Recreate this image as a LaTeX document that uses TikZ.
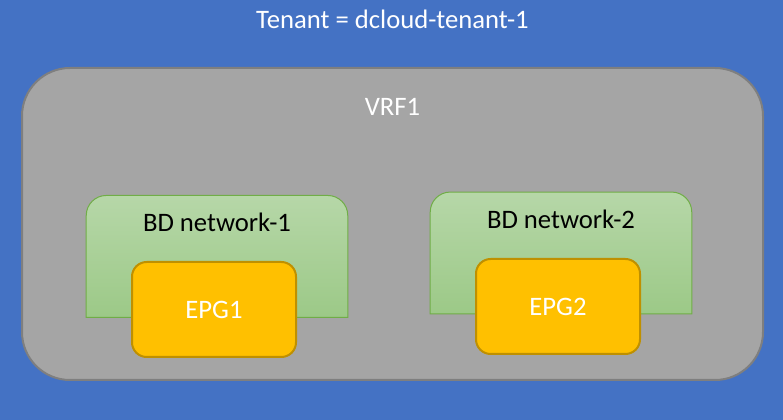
\documentclass[tikz,border=0pt]{standalone}
\usepackage{fontspec}
\setmainfont{Carlito}
\usetikzlibrary{positioning}
\definecolor{tenantblue}{HTML}{4472C4}
\definecolor{vrfgray}{HTML}{A5A5A5}
\definecolor{vrfline}{HTML}{7F7F7F}
\definecolor{bdtop}{HTML}{B6D7A8}
\definecolor{bdbottom}{HTML}{9CC987}
\definecolor{bdline}{HTML}{70AD47}
\definecolor{epgfill}{HTML}{FFC000}
\definecolor{epgline}{HTML}{BF9000}
\begin{document}
\begin{tikzpicture}[x=0.75pt, y=-0.75pt,
		every node/.style = {font=\fontsize{20}{24}\selectfont, inner sep=0pt},
		vrf/.style={shape=rectangle, rounded corners=36pt, draw=vrfline, fill=vrfgray, line width=1.5pt, minimum width=555.75pt, minimum height=234pt},
		bd/.style={shape=rectangle, minimum width=195.75pt, minimum height=91pt},
		bdshape/.style={draw=bdline, line width=0.75pt, top color=bdtop, bottom color=bdbottom},
		epg/.style={shape=rectangle, rounded corners=11pt, draw=epgline, fill=epgfill, line width=1.5pt, minimum width=123pt, minimum height=71.25pt, text=white},
		caption/.style={anchor=base}]
		\fill[tenantblue] (0,0) rectangle (783,420);
		\node[caption, text=white] (tenant) at (392.5,29) {Tenant = dcloud-tenant-1};
		\node[vrf] (vrf) at (392.5,224) {};
		\node[caption, text=white] (vrflabel) at (392.5,116) {VRF1};
		\node[bd] (bd1) at (217,256.4) {};
		\node[bd] (bd2) at (561,253) {};
		\foreach \b in {bd1,bd2}
			\path[bdshape] (\b.south west) -- ([yshift=-15pt]\b.north west) arc[start angle=180, end angle=90, radius=15pt]
				-- ([xshift=-15pt]\b.north east) arc[start angle=90, end angle=0, radius=15pt] -- (\b.south east) -- cycle;
		\node[caption] (bd1label) at (217,232) {BD network-1};
		\node[caption] (bd2label) at (561,229) {BD network-2};
		\node[epg] (epg1) at (214,309.5) {EPG1};
		\node[epg] (epg2) at (558,306.5) {EPG2};
	\end{tikzpicture}
\end{document}
